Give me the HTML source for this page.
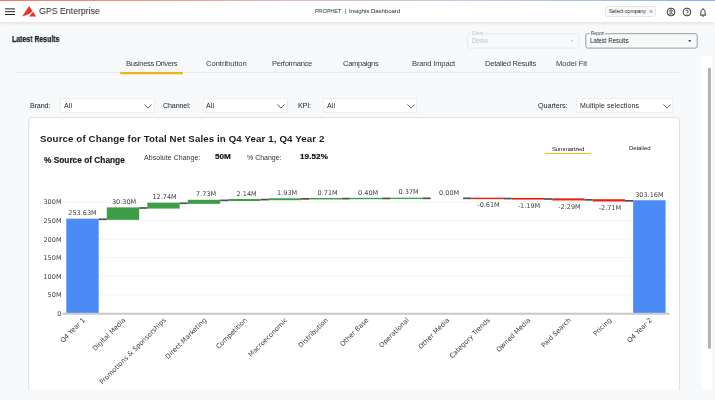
<!DOCTYPE html>
<html><head><meta charset="utf-8"><title>PROPHET | Insights Dashboard</title>
<style>
*{box-sizing:border-box;margin:0;padding:0}
html,body{width:715px;height:400px;overflow:hidden;background:#f7f9fa;font-family:"Liberation Sans",sans-serif;color:#222}
.abs{position:absolute;white-space:nowrap}
#brand,#ctitle,#selcot,#lr,#clientv,#reportv,.lbl,.tab,.fl,.dv,#title,#psoc,.sm,.bd,#summ,#det{will-change:transform}
#stripe{left:0;top:0;width:715px;height:1px;background:linear-gradient(90deg,#ea7a6e 0%,#ecb0ac 35%,#c3cdea 65%,#8fb1ee 100%)}
#hdr{left:0;top:0;width:715px;height:22px;background:#fff;box-shadow:0 1px 3px rgba(60,64,67,.16)}
#brand{left:39px;top:6.4px;font-size:9.1px;line-height:11px;color:#222}
.ct{top:7px;font-size:6.1px;line-height:8px;color:#2a2c2f;will-change:transform}
#selco{left:604.5px;top:5.6px;width:51.8px;height:11.2px;border:0.6px solid #e4e6e9;border-radius:2.5px;background:#f8f9fa}
#selcot{left:609.3px;top:7.3px;font-size:6px;line-height:8px;color:#202124}
#lr{left:11.7px;top:35.2px;font-size:8.2px;line-height:10px;font-weight:bold;color:#1b1c1f;-webkit-text-stroke:0.25px #1b1c1f}
.ob{border-radius:2px;height:15px;top:33.3px}
#client{left:467.3px;width:111.7px;border:0.6px solid #e3e4e6}
#report{left:585.4px;width:112px;border:0.7px solid #777}
.lbl{font-size:4.9px;line-height:6px}
#clientl{left:472.4px;top:30.5px;color:#b8babd}
#reportl{left:590.5px;top:30.5px;color:#3c4043}
#clientv{left:471.9px;top:36.6px;font-size:7.1px;line-height:9px;color:#bdbfc2}
#reportv{left:590px;top:36.6px;font-size:7.1px;line-height:9px;color:#202124}
.tab{top:59.4px;font-size:7.6px;line-height:10px;color:#3a3a3a}
#tabline{left:15px;top:71.8px;width:666px;height:0.8px;background:#e2e3e5}
#tabsel{left:120.2px;top:72px;width:62.6px;height:2.2px;background:#edb913}
.fl{top:101.4px;font-size:7.2px;line-height:10px;color:#252525}
.dd{top:98.3px;height:14px;background:#fff;border:0.6px solid #e6e6e6}
.dv{top:101.4px;font-size:7px;line-height:10px;color:#252525}
#card{left:29.3px;top:117.4px;width:650.2px;height:272px;background:#fff;border:0.8px solid #dcdde0;border-radius:3px}
#title{left:40px;top:132px;font-size:9.7px;line-height:13px;font-weight:bold;color:#1c1c1c}
#psoc{left:44.3px;top:154.6px;font-size:8.3px;line-height:11px;font-weight:bold;color:#1c1c1c;-webkit-text-stroke:0.2px #1c1c1c}
.sm{font-size:7px;line-height:9px;color:#333;top:152.6px}
.bd{font-size:8.1px;line-height:10px;font-weight:bold;color:#111;top:152.3px;-webkit-text-stroke:0.2px #111}
#summ{left:551.7px;top:144.6px;font-size:6px;line-height:8px;color:#222}
#summu{left:545px;top:152.8px;width:46px;height:1.4px;background:#f2b90f}
#det{left:628.5px;top:144px;font-size:6px;line-height:8px;color:#222}
#sbtrack{left:701.4px;top:56px;width:10.1px;height:340px;background:#fff}
#sbthumb{left:707.9px;top:67.6px;width:3.1px;height:281.2px;background:#b5b5b5;border-radius:1.5px}
svg{position:absolute;left:0;top:0}
#ct1{transform:scaleX(0.8891);transform-origin:0 0}#clientl{transform:scaleX(0.8949);transform-origin:0 0}#reportl{transform:scaleX(0.8919);transform-origin:0 0}#brand{transform:scaleX(0.9638);transform-origin:0 0}#ct3{letter-spacing:-0.079px}#selcot{transform:scaleX(0.8641);transform-origin:0 0}#lr{transform:scaleX(0.8469);transform-origin:0 0}#clientv{transform:scaleX(0.8449);transform-origin:0 0}#reportv{transform:scaleX(0.8564);transform-origin:0 0}#t1{letter-spacing:-0.354px}#t2{letter-spacing:-0.029px}#t3{letter-spacing:-0.317px}#t4{letter-spacing:-0.325px}#t5{letter-spacing:-0.181px}#t6{letter-spacing:-0.269px}#t7{letter-spacing:-0.026px}#f1{letter-spacing:-0.165px}#f2{letter-spacing:-0.173px}#f3{letter-spacing:-0.173px}#f4{letter-spacing:-0.052px}#v1{letter-spacing:0.106px}#v2{letter-spacing:0.106px}#v3{letter-spacing:0.106px}#v4{letter-spacing:0.100px}#title{letter-spacing:0.120px}#psoc{letter-spacing:0.006px}#ac{letter-spacing:0.046px}#pc{letter-spacing:-0.016px}#acv{letter-spacing:-0.017px}#pcv{letter-spacing:0.091px}#summ{letter-spacing:-0.149px}#det{letter-spacing:-0.077px}
svg .t{font-family:"DejaVu Sans","Liberation Sans",sans-serif;font-size:6.5px;fill:#404040}
</style></head><body>
<div class="abs" id="hdr"></div>
<div class="abs" id="stripe"></div>
<svg class="abs" style="left:5px;top:8px" width="10" height="8" viewBox="0 0 10 8"><path d="M0 0.9H10M0 3.7H10M0 6.5H10" stroke="#222" stroke-width="1"/></svg>
<svg class="abs" style="left:22px;top:6px" width="14" height="12" viewBox="0 0 14 12"><path d="M7.2 0L10.5 5L7.2 7.9L0.2 10.6Z" fill="#ea3323"/><path d="M11 5.8L14.2 10.6H7Z" fill="#ea3323"/></svg>
<div class="abs" id="brand">GPS Enterprise</div>
<div class="abs ct" id="ct1" style="left:315.1px">PROPHET</div><div class="abs ct" id="ct2" style="left:344.7px">|</div><div class="abs ct" id="ct3" style="left:349.1px">Insights Dashboard</div>
<div class="abs" id="selco"></div>
<div class="abs" id="selcot">Select company</div>
<svg class="abs" style="left:649.4px;top:10.2px" width="4" height="3" viewBox="0 0 4 3"><path d="M0.2 0.8H3.2M0.8 2.2H3.8" stroke="#80868b" stroke-width="0.6"/><path d="M2.6 0.1L3.4 0.8L2.6 1.5M1.4 1.5L0.6 2.2L1.4 2.9" fill="none" stroke="#80868b" stroke-width="0.4"/></svg>
<svg class="abs" style="left:665.8px;top:6.7px" width="10" height="10" viewBox="0 0 10 10"><circle cx="5" cy="5" r="3.9" fill="none" stroke="#222" stroke-width="0.9"/><circle cx="5" cy="4" r="1.3" fill="none" stroke="#222" stroke-width="0.8"/><path d="M2.4 7.6C3.2 6.4 6.8 6.4 7.6 7.6" fill="none" stroke="#222" stroke-width="0.8"/></svg>
<svg class="abs" style="left:682.1px;top:6.7px" width="10" height="10" viewBox="0 0 10 10"><circle cx="5" cy="5" r="3.9" fill="none" stroke="#222" stroke-width="0.9"/><path d="M3.8 4.1C3.8 2.6 6.3 2.6 6.3 4.1C6.3 5 5 5 5 6.1" fill="none" stroke="#222" stroke-width="0.8"/><circle cx="5" cy="7.3" r="0.5" fill="#222"/></svg>
<svg class="abs" style="left:698.3px;top:6.7px" width="10" height="11" viewBox="0 0 10 11"><path d="M2.9 7.4V4.7C2.9 3.2 3.8 2.3 5 2.3C6.2 2.3 7.1 3.2 7.1 4.7V7.4L7.8 8.1H2.2Z" fill="none" stroke="#222" stroke-width="0.9" stroke-linejoin="round"/><circle cx="5" cy="1.8" r="0.55" fill="#222"/><path d="M4.2 9.1H5.8" stroke="#222" stroke-width="0.9"/></svg>

<div class="abs" id="lr">Latest Results</div>
<svg width="715" height="60" viewBox="0 0 715 60"><rect x="467.6" y="33.7" width="111.2" height="14.4" rx="2" fill="none" stroke="#e1e3e6" stroke-width="0.7"/><rect x="585.8" y="33.7" width="111.4" height="14.4" rx="2" fill="none" stroke="#858585" stroke-width="0.8"/><rect x="471.2" y="32" width="13.6" height="3" fill="#f7f9fa"/><rect x="589.3" y="32" width="15.6" height="3" fill="#f7f9fa"/></svg>
<div class="abs lbl" id="clientl">Client</div>
<div class="abs lbl" id="reportl">Report</div>
<div class="abs" id="clientv">Demo</div>
<div class="abs" id="reportv">Latest Results</div>
<svg class="abs" style="left:570.4px;top:40.3px" width="3.4" height="2.4" viewBox="0 0 4 3"><path d="M0 0.3H4L2 2.5Z" fill="#c4c6c9"/></svg>
<svg class="abs" style="left:688.4px;top:40.3px" width="3.4" height="2.4" viewBox="0 0 4 3"><path d="M0 0.3H4L2 2.5Z" fill="#222"/></svg>

<svg width="715" height="80" viewBox="0 0 715 80"><rect x="15" y="71.9" width="666" height="0.8" fill="#e3e5e7"/><rect x="120.2" y="72" width="62.6" height="2.3" fill="#ecb714"/></svg>
<div class="abs tab" id="t1" style="left:125.8px">Business Drivers</div>
<div class="abs tab" id="t2" style="left:205.7px">Contribution</div>
<div class="abs tab" id="t3" style="left:272.2px">Performance</div>
<div class="abs tab" id="t4" style="left:343.2px">Campaigns</div>
<div class="abs tab" id="t5" style="left:411.6px">Brand Impact</div>
<div class="abs tab" id="t6" style="left:484.8px">Detailed Results</div>
<div class="abs tab" id="t7" style="left:555.8px">Model Fit</div>

<svg width="715" height="120" viewBox="0 0 715 120"><rect x="60.3" y="98.7" width="93.7" height="13.5" fill="#fff" stroke="#e4e4e4" stroke-width="0.6"/><rect x="203.2" y="98.7" width="84.3" height="13.5" fill="#fff" stroke="#e4e4e4" stroke-width="0.6"/><rect x="323.8" y="98.7" width="92.9" height="13.5" fill="#fff" stroke="#e4e4e4" stroke-width="0.6"/><rect x="576.7" y="98.7" width="96.1" height="13.5" fill="#fff" stroke="#e4e4e4" stroke-width="0.6"/></svg>
<div class="abs fl" id="f1" style="left:29.8px">Brand:</div>
<div class="abs dv" id="v1" style="left:63.9px">All</div>
<div class="abs fl" id="f2" style="left:162.9px">Channel:</div>
<div class="abs dv" id="v2" style="left:206.4px">All</div>
<div class="abs fl" id="f3" style="left:297.6px">KPI:</div>
<div class="abs dv" id="v3" style="left:327px">All</div>
<div class="abs fl" id="f4" style="left:537.6px">Quarters:</div>
<div class="abs dv" id="v4" style="left:579.7px">Multiple selections</div>
<svg class="abs" style="left:143.5px;top:103.5px" width="8" height="5" viewBox="0 0 8 5"><path d="M0.4 0.5L4 4.1L7.6 0.5" fill="none" stroke="#333" stroke-width="0.8"/></svg>
<svg class="abs" style="left:276.5px;top:103.5px" width="8" height="5" viewBox="0 0 8 5"><path d="M0.4 0.5L4 4.1L7.6 0.5" fill="none" stroke="#333" stroke-width="0.8"/></svg>
<svg class="abs" style="left:406.5px;top:103.5px" width="8" height="5" viewBox="0 0 8 5"><path d="M0.4 0.5L4 4.1L7.6 0.5" fill="none" stroke="#333" stroke-width="0.8"/></svg>
<svg class="abs" style="left:662.8px;top:103.5px" width="8" height="5" viewBox="0 0 8 5"><path d="M0.4 0.5L4 4.1L7.6 0.5" fill="none" stroke="#333" stroke-width="0.8"/></svg>

<svg width="715" height="400" viewBox="0 0 715 400"><rect x="28.7" y="117.6" width="650.8" height="290" rx="2.5" fill="#fff" stroke="#dcdee1" stroke-width="0.9"/></svg>
<div class="abs" id="title">Source of Change for Total Net Sales in Q4 Year 1, Q4 Year 2</div>
<div class="abs" id="psoc">% Source of Change</div>
<div class="abs sm" id="ac" style="left:143.8px">Absolute Change:</div>
<div class="abs bd" id="acv" style="left:215.2px">50M</div>
<div class="abs sm" id="pc" style="left:246.9px">% Change:</div>
<div class="abs bd" id="pcv" style="left:299.9px">19.52%</div>
<div class="abs" id="summ">Summarized</div>
<div class="abs" id="summu"></div>
<div class="abs" id="det">Detailed</div>

<svg width="715" height="400" viewBox="0 0 715 400">
<line x1="62.3" x2="669.6" y1="294.92" y2="294.92" stroke="#eeeeee" stroke-width="0.6"/>
<line x1="62.3" x2="669.6" y1="276.34" y2="276.34" stroke="#eeeeee" stroke-width="0.6"/>
<line x1="62.3" x2="669.6" y1="257.76" y2="257.76" stroke="#eeeeee" stroke-width="0.6"/>
<line x1="62.3" x2="669.6" y1="239.18" y2="239.18" stroke="#eeeeee" stroke-width="0.6"/>
<line x1="62.3" x2="669.6" y1="220.60" y2="220.60" stroke="#eeeeee" stroke-width="0.6"/>
<line x1="62.3" x2="669.6" y1="202.02" y2="202.02" stroke="#eeeeee" stroke-width="0.6"/>
<text x="61.5" y="315.90" text-anchor="end" class="t">0</text>
<text x="61.5" y="297.32" text-anchor="end" class="t">50M</text>
<text x="61.5" y="278.74" text-anchor="end" class="t">100M</text>
<text x="61.5" y="260.16" text-anchor="end" class="t">150M</text>
<text x="61.5" y="241.58" text-anchor="end" class="t">200M</text>
<text x="61.5" y="223.00" text-anchor="end" class="t">250M</text>
<text x="61.5" y="204.42" text-anchor="end" class="t">300M</text>
<rect x="66.30" y="218.65" width="32.4" height="94.85" fill="#4c8bf5"/>
<text x="82.50" y="215.35" text-anchor="middle" class="t">253.63M</text>
<rect x="106.79" y="207.39" width="32.4" height="12.46" fill="#3e9d47"/>
<text x="124.09" y="204.09" text-anchor="middle" class="t">30.30M</text>
<rect x="147.28" y="202.66" width="32.4" height="5.93" fill="#3e9d47"/>
<text x="164.58" y="199.36" text-anchor="middle" class="t">12.74M</text>
<rect x="187.77" y="199.78" width="32.4" height="4.07" fill="#3e9d47"/>
<text x="206.17" y="196.48" text-anchor="middle" class="t">7.73M</text>
<rect x="228.26" y="198.99" width="32.4" height="2.00" fill="#3e9d47"/>
<text x="246.66" y="195.69" text-anchor="middle" class="t">2.14M</text>
<rect x="268.75" y="198.27" width="32.4" height="1.92" fill="#3e9d47"/>
<text x="287.15" y="194.97" text-anchor="middle" class="t">1.93M</text>
<rect x="309.24" y="198.01" width="32.4" height="1.46" fill="#3e9d47"/>
<text x="327.64" y="194.71" text-anchor="middle" class="t">0.71M</text>
<rect x="349.73" y="197.86" width="32.4" height="1.35" fill="#3e9d47"/>
<text x="368.13" y="194.56" text-anchor="middle" class="t">0.40M</text>
<rect x="390.22" y="197.72" width="32.4" height="1.34" fill="#3e9d47"/>
<text x="408.62" y="194.42" text-anchor="middle" class="t">0.37M</text>
<text x="449.11" y="195.22" text-anchor="middle" class="t">0.00M</text>
<rect x="471.20" y="197.72" width="32.4" height="1.43" fill="#ee1c0c"/>
<text x="488.50" y="207.45" text-anchor="middle" class="t">-0.61M</text>
<rect x="511.69" y="197.95" width="32.4" height="1.64" fill="#ee1c0c"/>
<text x="528.99" y="207.89" text-anchor="middle" class="t">-1.19M</text>
<rect x="552.18" y="198.39" width="32.4" height="2.05" fill="#ee1c0c"/>
<text x="569.48" y="208.74" text-anchor="middle" class="t">-2.29M</text>
<rect x="592.67" y="199.24" width="32.4" height="2.21" fill="#ee1c0c"/>
<text x="609.97" y="209.75" text-anchor="middle" class="t">-2.71M</text>
<rect x="633.16" y="200.25" width="32.4" height="113.25" fill="#4c8bf5"/>
<text x="649.36" y="196.95" text-anchor="middle" class="t">303.16M</text>
<line x1="98.70" x2="106.79" y1="219.25" y2="219.25" stroke="#505050" stroke-width="1.7"/>
<line x1="139.19" x2="147.28" y1="207.99" y2="207.99" stroke="#505050" stroke-width="1.7"/>
<line x1="179.68" x2="187.77" y1="203.26" y2="203.26" stroke="#505050" stroke-width="1.7"/>
<line x1="220.17" x2="228.26" y1="200.38" y2="200.38" stroke="#505050" stroke-width="1.7"/>
<line x1="260.66" x2="268.75" y1="199.59" y2="199.59" stroke="#505050" stroke-width="1.7"/>
<line x1="301.15" x2="309.24" y1="198.87" y2="198.87" stroke="#505050" stroke-width="1.7"/>
<line x1="341.64" x2="349.73" y1="198.61" y2="198.61" stroke="#505050" stroke-width="1.7"/>
<line x1="382.13" x2="390.22" y1="198.46" y2="198.46" stroke="#505050" stroke-width="1.7"/>
<line x1="422.62" x2="430.71" y1="198.32" y2="198.32" stroke="#505050" stroke-width="1.7"/>
<line x1="463.11" x2="471.20" y1="198.32" y2="198.32" stroke="#505050" stroke-width="1.7"/>
<line x1="503.60" x2="511.69" y1="198.55" y2="198.55" stroke="#505050" stroke-width="1.7"/>
<line x1="544.09" x2="552.18" y1="198.99" y2="198.99" stroke="#505050" stroke-width="1.7"/>
<line x1="584.58" x2="592.67" y1="199.84" y2="199.84" stroke="#505050" stroke-width="1.7"/>
<line x1="625.07" x2="633.16" y1="200.85" y2="200.85" stroke="#505050" stroke-width="1.7"/>
<line x1="62.3" x2="669.6" y1="313.7" y2="313.7" stroke="#c8c8c8" stroke-width="1.9"/>
<text class="t" style="font-size:6.65px" text-anchor="end" transform="translate(85.50,320.50) rotate(-45)">Q4 Year 1</text>
<text class="t" style="font-size:6.65px" text-anchor="end" transform="translate(125.99,320.50) rotate(-45)">Digital Media</text>
<text class="t" style="font-size:6.65px" text-anchor="end" transform="translate(166.48,320.50) rotate(-45)">Promotions &amp; Sponsorships</text>
<text class="t" style="font-size:6.65px" text-anchor="end" transform="translate(206.97,320.50) rotate(-45)">Direct Marketing</text>
<text class="t" style="font-size:6.65px" text-anchor="end" transform="translate(247.46,320.50) rotate(-45)">Competition</text>
<text class="t" style="font-size:6.65px" text-anchor="end" transform="translate(287.95,320.50) rotate(-45)">Macroeconomic</text>
<text class="t" style="font-size:6.65px" text-anchor="end" transform="translate(328.44,320.50) rotate(-45)">Distribution</text>
<text class="t" style="font-size:6.65px" text-anchor="end" transform="translate(368.93,320.50) rotate(-45)">Other Base</text>
<text class="t" style="font-size:6.65px" text-anchor="end" transform="translate(409.42,320.50) rotate(-45)">Operational</text>
<text class="t" style="font-size:6.65px" text-anchor="end" transform="translate(449.91,320.50) rotate(-45)">Other Media</text>
<text class="t" style="font-size:6.65px" text-anchor="end" transform="translate(490.40,320.50) rotate(-45)">Category Trends</text>
<text class="t" style="font-size:6.65px" text-anchor="end" transform="translate(530.89,320.50) rotate(-45)">Owned Media</text>
<text class="t" style="font-size:6.65px" text-anchor="end" transform="translate(571.38,320.50) rotate(-45)">Paid Search</text>
<text class="t" style="font-size:6.65px" text-anchor="end" transform="translate(611.87,320.50) rotate(-45)">Pricing</text>
<text class="t" style="font-size:6.65px" text-anchor="end" transform="translate(652.36,320.50) rotate(-45)">Q4 Year 2</text>
</svg>

<svg width="715" height="400" viewBox="0 0 715 400"><rect x="701.6" y="56" width="10.2" height="340" fill="#fff"/><rect x="707.9" y="67.6" width="3.1" height="281.2" rx="1.5" fill="#b4b4b4"/></svg>
<svg width="715" height="400" viewBox="0 0 715 400"><rect x="0" y="389.8" width="715" height="11" fill="#f7f9fa"/></svg>
</body></html>
